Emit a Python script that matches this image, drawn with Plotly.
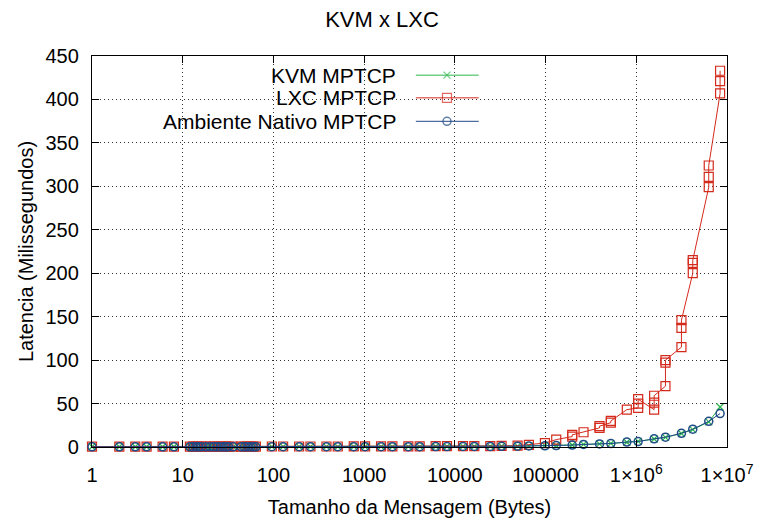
import plotly.graph_objects as go

# Message sizes (bytes) measured for every environment
sizes = [1, 2, 3, 4, 6, 8, 12, 13, 14, 15, 16, 18, 20, 22, 24, 26, 28, 30, 32, 36,
         44, 48, 52, 56, 60, 64, 96, 128, 192, 256, 384, 512, 768, 1024, 1536, 2048,
         3072, 4096, 6144, 8192, 12288, 16384, 24576, 32768, 49152, 65536, 98304,
         131072, 196608, 262144, 393216, 524288, 786432, 1048576, 1572864, 2097152,
         3145728, 4194304, 6291456, 8388608]

# KVM latency (ms), one run per size
kvm_lat = [0.3, 0.3, 0.3, 0.3, 0.3, 0.3, 0.3, 0.3, 0.3, 0.3, 0.3, 0.3, 0.3, 0.3, 0.3,
           0.3, 0.3, 0.3, 0.3, 0.3, 0.3, 0.3, 0.3, 0.3, 0.3, 0.3, 0.4, 0.4, 0.4, 0.4,
           0.4, 0.4, 0.4, 0.4, 0.5, 0.5, 0.5, 0.5, 0.6, 0.6, 0.7, 0.7, 0.8, 0.9, 1.0,
           1.3, 1.5, 1.7, 2.3, 3.0, 3.6, 4.2, 5.5, 6.5, 9.2, 11.0, 15.5, 20.0, 29.0, 46.0]

# Native environment latency (ms), one run per size
native_lat = [0.2, 0.2, 0.2, 0.2, 0.2, 0.2, 0.2, 0.2, 0.2, 0.2, 0.2, 0.2, 0.2, 0.2, 0.2,
              0.2, 0.2, 0.2, 0.2, 0.2, 0.2, 0.2, 0.2, 0.2, 0.2, 0.2, 0.3, 0.3, 0.3, 0.3,
              0.3, 0.3, 0.3, 0.3, 0.4, 0.4, 0.4, 0.4, 0.5, 0.5, 0.6, 0.6, 0.7, 0.8, 0.9,
              1.2, 1.4, 1.6, 2.2, 2.9, 3.5, 4.0, 5.7, 6.3, 9.4, 11.3, 15.8, 20.5, 29.5, 38.5]

# LXC runs: several repetitions recorded for the larger messages
lxc_sizes = [1, 2, 3, 4, 6, 8, 12, 13, 14, 15, 16, 18, 20, 22, 24, 26, 28, 30, 32, 36,
             44, 48, 52, 56, 60, 64, 96, 128, 192, 256, 384, 512, 768, 1024, 1536, 2048,
             3072, 4096, 6144, 8192, 12288, 16384, 24576, 32768, 49152, 65536, 98304,
             131072, 196608, 196608, 262144, 393216, 393216, 524288, 524288, 786432,
             1048576, 1048576, 1048576, 1572864, 1572864, 1572864,
             2097152, 2097152, 2097152, 3145728, 3145728, 3145728,
             4194304, 4194304, 4194304, 6291456, 6291456, 6291456,
             8388608, 8388608, 8388608]
lxc_lat = [0.5, 0.5, 0.5, 0.5, 0.5, 0.5, 0.5, 0.5, 0.5, 0.5, 0.5, 0.5, 0.5, 0.5, 0.5,
           0.5, 0.5, 0.5, 0.5, 0.5, 0.5, 0.5, 0.5, 0.5, 0.5, 0.5, 0.6, 0.6, 0.6, 0.6,
           0.6, 0.6, 0.7, 0.7, 0.7, 0.8, 0.8, 0.8, 0.9, 0.9, 1.0, 1.0, 1.1, 1.2, 1.5,
           2.5, 4.5, 8.5, 12.0, 14.0, 17.0, 22.0, 24.0, 28.0, 30.0, 43.0,
           45.0, 50.0, 55.0, 43.0, 51.0, 59.0,
           70.0, 97.0, 100.0, 115.0, 137.0, 146.0,
           200.0, 212.0, 215.0, 299.0, 311.0, 324.0,
           407.0, 421.0, 433.0]

x_tickvals = [1, 10, 100, 1000, 10000, 100000, 1000000, 10000000]
x_ticktext = ["1", "10", "100", "1000", "10000", "100000",
              "1×10<sup>6</sup>", "1×10<sup>7</sup>"]
y_tickvals = [0, 50, 100, 150, 200, 250, 300, 350, 400, 450]

series_names = ["KVM MPTCP", "LXC MPTCP", "Ambiente Nativo MPTCP"]
GREEN, RED, BLUE = "#2db84d", "#d42a1c", "#1f4a86"
FONT = "Liberation Sans, Arial, sans-serif"

fig = go.Figure()

fig.add_trace(go.Scatter(
    x=sizes, y=kvm_lat, mode="lines+markers", name=series_names[0],
    line=dict(color=GREEN, width=1),
    marker=dict(symbol="x-thin-open", size=7, line=dict(color=GREEN, width=1.2)),
    cliponaxis=False, showlegend=False))
fig.add_trace(go.Scatter(
    x=lxc_sizes, y=lxc_lat, mode="lines+markers", name=series_names[1],
    line=dict(color=RED, width=1),
    marker=dict(symbol="square-open", size=9, color=RED, line=dict(width=1.2)),
    cliponaxis=False, showlegend=False))
fig.add_trace(go.Scatter(
    x=sizes, y=native_lat, mode="lines+markers", name=series_names[2],
    line=dict(color=BLUE, width=1),
    marker=dict(symbol="circle-open", size=8, color=BLUE, line=dict(width=1.5)),
    cliponaxis=False, showlegend=False))

# Key: labels right-aligned, followed by a sample of each line style
key_rows = [0.951, 0.893, 0.833]
key_styles = [
    dict(color=GREEN, symbol="x-thin-open", size=7, lw=1.2),
    dict(color=RED, symbol="square-open", size=9, lw=1.2),
    dict(color=BLUE, symbol="circle-open", size=8, lw=1.5),
]
for name, yrow, st in zip(series_names, key_rows, key_styles):
    fig.add_annotation(xref="paper", yref="paper", x=0.482, y=yrow, text=name,
                       showarrow=False, xanchor="right", yanchor="middle",
                       font=dict(family=FONT, size=21, color="black"))
    fig.add_trace(go.Scatter(
        x=[0.510, 0.559, 0.609], y=[yrow] * 3, xaxis="x2", yaxis="y2",
        mode="lines+markers", line=dict(color=st["color"], width=1),
        marker=dict(symbol=st["symbol"], size=[0, st["size"], 0], color=st["color"],
                    line=dict(color=st["color"], width=st["lw"])),
        showlegend=False, hoverinfo="skip", cliponaxis=False))

axis_common = dict(
    showline=True, linecolor="black", linewidth=1.3, mirror="allticks",
    ticks="inside", ticklen=7, tickcolor="black", tickwidth=1,
    showgrid=True, gridcolor="#333333", gridwidth=1, griddash="1px,3px",
    zeroline=False, automargin=False,
    tickfont=dict(family=FONT, size=20, color="black"),
)

fig.update_layout(
    width=764, height=521,
    margin=dict(l=92, r=37, t=56, b=74),
    paper_bgcolor="white", plot_bgcolor="white",
    title=dict(text="KVM x LXC", x=0.5, xanchor="center", y=0.962, yanchor="middle",
               font=dict(family=FONT, size=22, color="black")),
    xaxis=dict(type="log", range=[0, 7], tickvals=x_tickvals, ticktext=x_ticktext,
               ticklabelstandoff=10,
               title=dict(text="Tamanho da Mensagem (Bytes)", standoff=14,
                          font=dict(family=FONT, size=20, color="black")),
               **axis_common),
    yaxis=dict(range=[0, 450], tickvals=y_tickvals, ticklabelstandoff=8,
               title=dict(text="Latencia (Milissegundos)", standoff=6,
                          font=dict(family=FONT, size=20, color="black")),
               **axis_common),
    xaxis2=dict(overlaying="x", range=[0, 1], visible=False, domain=[0, 1]),
    yaxis2=dict(overlaying="y", range=[0, 1], visible=False),
)

fig.write_html("out.html")
